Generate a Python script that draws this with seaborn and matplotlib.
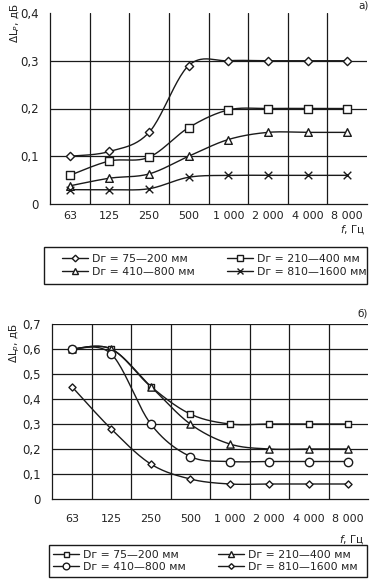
import numpy as np
import pandas as pd
import seaborn as sns
import matplotlib
matplotlib.use("Agg")
import matplotlib.pyplot as plt
from matplotlib.lines import Line2D
from matplotlib.patches import Rectangle

# frequency bands (categorical x)
freqs = ["63", "125", "250", "500", "1 000", "2 000", "4 000", "8 000"]

# chart а)
a_labels = ["Dг = 75—200 мм", "Dг = 210—400 мм", "Dг = 410—800 мм", "Dг = 810—1600 мм"]
a_75_200 = [0.10, 0.11, 0.15, 0.29, 0.30, 0.30, 0.30, 0.30]
a_210_400 = [0.06, 0.09, 0.098, 0.16, 0.197, 0.20, 0.20, 0.20]
a_410_800 = [0.038, 0.054, 0.063, 0.10, 0.135, 0.15, 0.15, 0.15]
a_810_1600 = [0.03, 0.03, 0.032, 0.056, 0.06, 0.06, 0.06, 0.06]
a_yticks = [0, 0.1, 0.2, 0.3, 0.4]
a_ylabels = ["0", "0,1", "0,2", "0,3", "0,4"]

# chart б)
b_labels = ["Dг = 75—200 мм", "Dг = 210—400 мм", "Dг = 410—800 мм", "Dг = 810—1600 мм"]
b_75_200 = [0.60, 0.60, 0.45, 0.34, 0.30, 0.30, 0.30, 0.30]
b_210_400 = [0.60, 0.60, 0.45, 0.30, 0.22, 0.20, 0.20, 0.20]
b_410_800 = [0.60, 0.58, 0.30, 0.17, 0.15, 0.15, 0.15, 0.15]
b_810_1600 = [0.45, 0.28, 0.14, 0.08, 0.06, 0.06, 0.06, 0.06]
b_yticks = [0, 0.1, 0.2, 0.3, 0.4, 0.5, 0.6, 0.7]
b_ylabels = ["0", "0,1", "0,2", "0,3", "0,4", "0,5", "0,6", "0,7"]

sns.set_style("white")
plt.rcParams["font.family"] = ["DejaVu Sans"]
plt.rcParams["text.color"] = "#222222"
plt.rcParams["xtick.color"] = "#222222"
plt.rcParams["ytick.color"] = "#222222"

INK = "#1a1a1a"


def smooth(y, n=24):
    # Excel-style smoothed line (cubic bezier, catmull-rom control points)
    pts = np.column_stack([np.arange(len(y), dtype=float), np.asarray(y, float)])
    out = []
    t = np.linspace(0, 1, n, endpoint=False)[:, None]
    for i in range(len(pts) - 1):
        p0 = pts[max(i - 1, 0)]
        p1 = pts[i]
        p2 = pts[i + 1]
        p3 = pts[min(i + 2, len(pts) - 1)]
        c1 = p1 + (p2 - p0) / 6
        c2 = p2 - (p3 - p1) / 6
        seg = ((1 - t) ** 3) * p1 + 3 * ((1 - t) ** 2) * t * c1 + 3 * (1 - t) * t ** 2 * c2 + t ** 3 * p2
        out.append(seg)
    out.append(pts[-1:])
    out = np.vstack(out)
    return out[:, 0], out[:, 1]


def draw_panel(ax, series, styles, yticks, ylabels, ymax, top_grid):
    x = np.arange(len(freqs))
    for y, st in zip(series, styles):
        sx, sy = smooth(y)
        sns.lineplot(x=sx, y=sy, ax=ax, color=INK, lw=1.0, sort=False,
                     estimator=None, zorder=2)
    for y, st in zip(series, styles):
        df = pd.DataFrame({"x": x, "y": y})
        if st["marker"] == "x":
            sns.scatterplot(data=df, x="x", y="y", ax=ax, marker="x",
                            s=st["ms"] ** 2, color=INK, linewidth=1.0, zorder=3)
        else:
            sns.scatterplot(data=df, x="x", y="y", ax=ax, marker=st["marker"],
                            s=st["ms"] ** 2, facecolor="white", edgecolor=INK,
                            linewidth=1.0, zorder=3)

    ax.set_xlim(-0.5, len(freqs) - 0.5)
    ax.set_ylim(0, ymax)
    for v in yticks[1:]:
        if v < ymax or top_grid:
            ax.axhline(v, color=INK, lw=0.9, zorder=1)
    for b in np.arange(0.5, len(freqs) - 1, 1):
        ax.axvline(b, color=INK, lw=0.9, zorder=1)

    ax.set_xticks(x)
    ax.set_xticklabels(freqs, fontsize=8)
    ax.set_xticks(np.arange(-0.5, len(freqs), 1), minor=True)
    ax.tick_params(axis="x", which="major", length=0)
    ax.tick_params(axis="x", which="minor", direction="inout", length=6,
                   width=0.9, color=INK)
    ax.set_yticks(yticks)
    ax.set_yticklabels(ylabels, fontsize=8.5)
    ax.tick_params(axis="y", direction="inout", length=6, width=0.9,
                   color=INK, pad=5)
    ax.set_xlabel("")
    ax.set_ylabel("")
    for s in ["top", "right"]:
        ax.spines[s].set_visible(False)
    for s in ["left", "bottom"]:
        ax.spines[s].set_color(INK)
        ax.spines[s].set_linewidth(0.9)


def legend_handles(styles, labels):
    hs = []
    for st, lab in zip(styles, labels):
        if st["marker"] == "x":
            h = Line2D([], [], color=INK, lw=1.0, marker="x", ms=st["ms"] * 0.9,
                       mec=INK, label=lab)
        else:
            h = Line2D([], [], color=INK, lw=1.0, marker=st["marker"],
                       ms=st["ms"] * 0.8, mfc="white", mec=INK, mew=1.0, label=lab)
        hs.append(h)
    # row-wise order for two columns
    return [hs[0], hs[2], hs[1], hs[3]]


def boxed_legend(fig, handles, box, text_x, spacing):
    x0, y0, x1, y1 = box
    fig.patches.append(Rectangle((x0 / W, 1 - y1 / H), (x1 - x0) / W, (y1 - y0) / H,
                                 transform=fig.transFigure, fill=False,
                                 edgecolor=INK, lw=1.0))
    leg = fig.legend(handles=handles, ncol=2, loc="center left",
                     bbox_to_anchor=(text_x / W, 1 - (y0 + y1) / 2 / H),
                     frameon=False, fontsize=7.8, handlelength=2.4,
                     handletextpad=0.35, columnspacing=3.0,
                     labelspacing=spacing, borderpad=0, borderaxespad=0)
    return leg


fig = plt.figure(figsize=(3.71, 5.80), dpi=100)
W, H = 371.0, 580.0

# ---- а) ----
ax1 = fig.add_axes([50 / W, 1 - 204 / H, 317 / W, 191 / H])
a_styles = [{"marker": "D", "ms": 4.2}, {"marker": "s", "ms": 5.5},
            {"marker": "^", "ms": 5.5}, {"marker": "x", "ms": 5.5}]
draw_panel(ax1, [a_75_200, a_210_400, a_410_800, a_810_1600], a_styles,
           a_yticks, a_ylabels, 0.4, False)
ax1.tick_params(axis="x", which="major", pad=5)
ax1.text(-0.11, 1.05, "ΔL$_P$, дБ", transform=ax1.transAxes, rotation=90,
         ha="center", va="top", fontsize=7.5)
fig.text(369 / W, 1 - 5 / H, "а)", ha="right", va="center", fontsize=7.5)
fig.text(365 / W, 1 - 230 / H, "$f$, Гц", ha="right", va="center", fontsize=7.5)
boxed_legend(fig, legend_handles(a_styles, a_labels), (44, 247, 367, 284), 62, 0.3)

# ---- б) ----
ax2 = fig.add_axes([52 / W, 1 - 499 / H, 316 / W, 175 / H])
b_styles = [{"marker": "s", "ms": 4.5}, {"marker": "^", "ms": 5.2},
            {"marker": "o", "ms": 6.0}, {"marker": "D", "ms": 3.6}]
draw_panel(ax2, [b_75_200, b_210_400, b_410_800, b_810_1600], b_styles,
           b_yticks, b_ylabels, 0.7, True)
ax2.tick_params(axis="x", which="major", pad=11)
ax2.text(-0.117, 1.006, "ΔL$_р$, дБ", transform=ax2.transAxes, rotation=90,
         ha="center", va="top", fontsize=7.5)
fig.text(368 / W, 1 - 314 / H, "б)", ha="right", va="center", fontsize=7.5)
fig.text(364 / W, 1 - 540 / H, "$f$, Гц", ha="right", va="center", fontsize=7.5)
boxed_legend(fig, legend_handles(b_styles, b_labels), (49, 545, 367, 577), 53, 0.2)

fig.savefig("out.png", dpi=100, facecolor="white")
